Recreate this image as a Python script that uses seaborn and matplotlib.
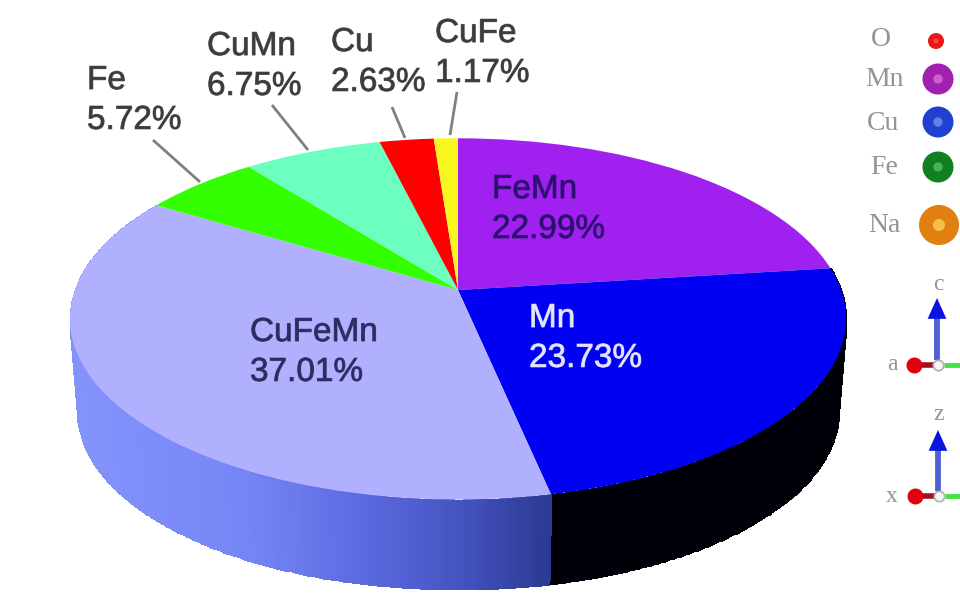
import numpy as np
import matplotlib
matplotlib.use("Agg")
import matplotlib.pyplot as plt
import matplotlib.patheffects as pe
from matplotlib.colors import LinearSegmentedColormap, Normalize
from matplotlib.transforms import Transform
import seaborn as sns

# ---- data ----
categories = ["FeMn", "Mn", "CuFeMn", "Fe", "CuMn", "Cu", "CuFe"]
shares = [22.99, 23.73, 37.01, 5.72, 6.75, 2.63, 1.17]
slice_colors = ["#a020f0", "#0000f2", "#b0b0ff", "#33ff00", "#6cffc0", "#ff0000", "#f8f820"]
label_colors = ["#2c1070", "#e4e4ff", "#2c2c60", "#3c3c3c", "#3c3c3c", "#3c3c3c", "#3c3c3c"]
label_anchor = [(492, 209.5), (529, 338.5), (250, 352.5), (87, 100.5), (207, 66.5), (331, 62.5), (435, 53.5)]
leader_lines = {"Fe": ((153, 140), (200, 182)), "CuMn": ((272, 105), (308, 150)),
                "Cu": ((392, 107), (405, 138)), "CuFe": ((457, 92), (450, 135))}

atom_names = ["O", "Mn", "Cu", "Fe", "Na"]
atom_x = [936, 938, 938, 938, 939]
atom_y = [41, 79, 122, 167, 225]
atom_diam = [16, 31, 31, 31, 40]
atom_color = ["#e81818", "#a020b0", "#2040d0", "#108020", "#e08010"]
atom_light = ["#ff5050", "#d868d0", "#6c8ce8", "#58b868", "#f8cc58"]
atom_label_x = [881, 884, 883, 884, 884]
atom_label_y = [39, 80, 124, 168, 226]

triads = [("c", "a", 938, 365, 298, 284), ("z", "x", 939, 496, 430, 414)]

# ---- perspective of the pie ----
CX, CY, A, B, K = 458.0, 290.0, 383.0, 176.0, 0.16
DEPTH_CY, DEPTH_S = 384.0, 0.98


class Persp(Transform):
    input_dims = output_dims = 2
    is_affine = False
    has_inverse = False

    def transform_non_affine(self, v):
        v = np.asarray(v, float)
        d = 1 + K * v[:, 1]
        return np.column_stack([CX + A * v[:, 0] / d, CY - B * v[:, 1] / d])


def rim(theta, cy=CY, s=1.0):
    c, n = np.cos(np.radians(theta)), np.sin(np.radians(theta))
    d = 1 + K * n
    return CX + s * A * c / d, cy - s * B * n / d


sns.set_theme(style="white")
plt.rcParams["font.family"] = ["Liberation Sans", "DejaVu Sans"]
fig = plt.figure(figsize=(9.6, 5.96), dpi=100, facecolor="white")
ax = fig.add_axes([0, 0, 1, 1])

# ---- side wall ----
edges = 90 - 3.6 * np.concatenate([[0], np.cumsum(shares)])
wall_cmap = LinearSegmentedColormap.from_list("wall", [(0, "#8492fb"), (0.35, "#7585f5"), (0.58, "#5e6ce2"),
                                                        (0.8, "#4654c2"), (1, "#2a3a90")])
arcs = [(1, LinearSegmentedColormap.from_list("blk", ["#000010", "#000008"])), (2, wall_cmap)]
for idx, cmap in arcs:
    th = np.linspace(edges[idx], edges[idx + 1], 240)
    xt, yt = rim(th)
    xb, yb = rim(th, DEPTH_CY, DEPTH_S)
    X = np.vstack([xt, xb])
    Y = np.vstack([yt, yb])
    C = ((X[0, :-1] + X[0, 1:]) / 2)[None, :]
    ax.pcolormesh(X, Y, C, shading="flat", cmap=cmap, norm=Normalize(78, 552),
                  edgecolors="face", linewidth=0.6)

# ---- top face ----
wedges, _ = ax.pie(shares, colors=slice_colors, startangle=90, counterclock=False,
                   wedgeprops={"linewidth": 0})
persp = Persp()
for w in wedges:
    w.set_transform(persp + ax.transData)
    w.set_clip_on(False)

ax.set_aspect("auto")
ax.set_xlim(0, 960)
ax.set_ylim(596, 0)
ax.axis("off")

for name, share, pos, col in zip(categories, shares, label_anchor, label_colors):
    ax.text(pos[0], pos[1], f"{name}\n{share:.2f}%", color=col, fontsize=24, ha="left", va="center",
            linespacing=1.37, zorder=6,
            path_effects=[pe.withStroke(linewidth=0.7, foreground=col, alpha=0.7)])
for name, (p0, p1) in leader_lines.items():
    ax.plot([p0[0], p1[0]], [p0[1], p1[1]], color="#808080", lw=2, zorder=5, solid_capstyle="butt")

# ---- atom legend ----
for name, lx, ly in zip(atom_names, atom_label_x, atom_label_y):
    ax.text(lx, ly, name, family="Liberation Serif", fontsize=20, color="#949494", ha="center", va="center")
sns.scatterplot(x=atom_x, y=atom_y, s=[(d * 0.72) ** 2 for d in atom_diam], c=atom_color,
                linewidth=0, ax=ax, legend=False, zorder=5)
sns.scatterplot(x=atom_x, y=atom_y, s=[(d * 0.72 * 0.3) ** 2 for d in atom_diam], c=atom_light,
                linewidth=0, ax=ax, legend=False, zorder=6, alpha=0.85)

# ---- orientation triads ----
for up, side, ox, oy, tip, up_y in triads:
    ax.annotate("", xy=(ox - 1, tip), xytext=(ox - 1, oy - 5),
                arrowprops=dict(arrowstyle="-|>,head_length=1.0,head_width=0.45", color="#0a14e0", lw=0,
                                shrinkA=0, shrinkB=0, mutation_scale=15), zorder=5)
    ax.plot([ox - 1, ox - 1], [oy - 5, tip + 18], color="#5060d0", lw=4.2, solid_capstyle="butt", zorder=4)
    ax.plot([ox - 22, ox - 4], [oy, oy], color="#a01020", lw=4, solid_capstyle="butt", zorder=4)
    ax.plot([ox - 24], [oy], "o", color="#e00010", ms=11.5, mew=0, zorder=5)
    ax.plot([ox + 6, 960], [oy, oy], color="#44e044", lw=3.5, solid_capstyle="butt", zorder=4)
    ax.plot([ox], [oy], "o", mfc="#f4f4f4", mec="#b0b0b0", ms=7.5, mew=1.2, zorder=6)
    ax.text(ox, up_y, up, family="Liberation Serif", fontsize=17, color="#949494", ha="center", va="center")
    ax.text(892, oy, side, family="Liberation Serif", fontsize=17, color="#949494", ha="center", va="center")

ax.set_xlim(0, 960)
ax.set_ylim(596, 0)
fig.savefig("out.png", dpi=100)
